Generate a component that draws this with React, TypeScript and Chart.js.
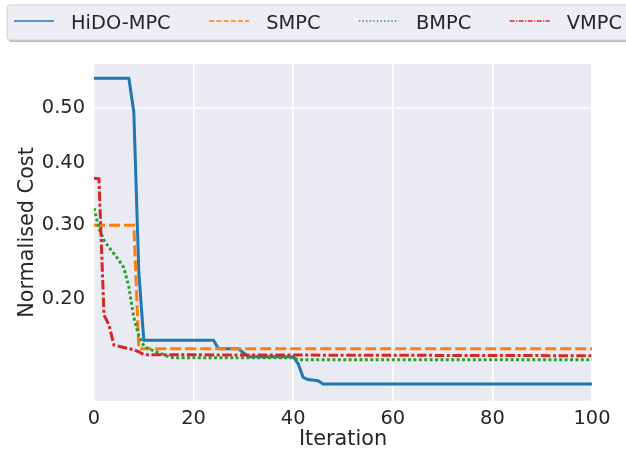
import React, { useEffect, useRef } from "react";
import { Chart, registerables } from "chart.js";

Chart.register(...registerables);

// ---- data ----
const seriesNames = ["HiDO-MPC", "SMPC", "BMPC", "VMPC"];
const seriesColors = ["#1f77b4", "#ff7f0e", "#2ca02c", "#d62728"];

const hidoIter = [0, 7, 8, 9, 10, 24, 25, 29, 30, 31, 40, 41, 42, 43, 45, 46, 100];
const hidoCost = [0.559, 0.559, 0.492, 0.234, 0.153, 0.153, 0.144, 0.144, 0.14, 0.136, 0.136, 0.129, 0.116, 0.114, 0.113, 0.11, 0.11];

const smpcIter = [0, 8, 9, 100];
const smpcCost = [0.3, 0.3, 0.144, 0.144];

const bmpcIter = [0, 1, 2, 3, 4, 5, 6, 7, 8, 9, 10, 11, 12, 13, 14, 15, 16, 40, 41, 100];
const bmpcCost = [0.326, 0.295, 0.278, 0.268, 0.259, 0.25, 0.24, 0.215, 0.178, 0.158, 0.147, 0.144, 0.142, 0.14, 0.138, 0.136, 0.135, 0.135, 0.133, 0.133];

const vmpcIter = [0, 1, 2, 3, 4, 8, 9, 10, 100];
const vmpcCost = [0.374, 0.373, 0.181, 0.17, 0.148, 0.143, 0.141, 0.138, 0.137];

const yTickValues = [0.2, 0.3, 0.4, 0.5];
const yGridValues = [0.5];
const yAxisMin = 0.0952;
const yAxisMax = 0.5883;
const xAxisMin = 0;
const xAxisMax = 100;
const xStep = 20;

const xTitle = "Iteration";
const yTitle = "Normalised Cost";

// ---- styles ----
const TEXT = "#262626";
const FONT = "'DejaVu Sans', 'Liberation Sans', sans-serif";
const TICK_SIZE = 19.4;
const TITLE_SIZE = 20.8;
const dashes: number[][] = [[], [11, 4], [3, 2.4], [9.5, 2.6, 3, 2.6]];
const legendDashes: number[][] = [[], [5, 2.2], [1.4, 2.2], [5, 1.4, 1.2, 1.4]];

const tf = (v: number) => Math.sqrt(v);

function pts(xs: number[], ys: number[]) {
  return xs.map((x, i) => ({ x, y: tf(ys[i]) }));
}

const bgPlugin = {
  id: "bgPlugin",
  beforeDraw(chart: any) {
    const { ctx, chartArea } = chart;
    ctx.save();
    ctx.fillStyle = "#eaeaf2";
    ctx.fillRect(chartArea.left, chartArea.top, chartArea.right - chartArea.left, chartArea.bottom - chartArea.top);
    ctx.restore();
  },
};

function rr(ctx: CanvasRenderingContext2D, x: number, y: number, w: number, h: number, r: number) {
  ctx.beginPath();
  ctx.moveTo(x + r, y);
  ctx.lineTo(x + w - r, y);
  ctx.quadraticCurveTo(x + w, y, x + w, y + r);
  ctx.lineTo(x + w, y + h - r);
  ctx.quadraticCurveTo(x + w, y + h, x + w - r, y + h);
  ctx.lineTo(x + r, y + h);
  ctx.quadraticCurveTo(x, y + h, x, y + h - r);
  ctx.lineTo(x, y + r);
  ctx.quadraticCurveTo(x, y, x + r, y);
  ctx.closePath();
}

const legendPlugin = {
  id: "legendPlugin",
  afterDraw(chart: any) {
    const ctx: CanvasRenderingContext2D = chart.ctx;
    ctx.save();
    // shadow
    ctx.fillStyle = "rgba(0,0,0,0.28)";
    rr(ctx, 8.5, 7, 660, 35, 3);
    ctx.fill();
    // box
    ctx.fillStyle = "#ededf3";
    rr(ctx, 7, 5, 660, 35, 3);
    ctx.fill();
    ctx.strokeStyle = "#d0d0d6";
    ctx.lineWidth = 1;
    ctx.stroke();

    ctx.font = TICK_SIZE + "px " + FONT;
    ctx.textBaseline = "alphabetic";
    ctx.textAlign = "left";
    let x = 14;
    for (let i = 0; i < seriesNames.length; i++) {
      ctx.beginPath();
      ctx.strokeStyle = seriesColors[i];
      ctx.lineWidth = 1.5;
      ctx.setLineDash(legendDashes[i]);
      ctx.moveTo(x, 21);
      ctx.lineTo(x + 40, 21);
      ctx.stroke();
      ctx.setLineDash([]);
      ctx.fillStyle = TEXT;
      ctx.fillText(seriesNames[i], x + 57, 29);
      x += 57 + ctx.measureText(seriesNames[i]).width + 38.5;
    }
    ctx.restore();
  },
};

export default function App() {
  const ref = useRef<HTMLCanvasElement>(null);
  useEffect(() => {
    const canvas = ref.current!;
    Chart.defaults.font.family = FONT;
    Chart.defaults.color = TEXT;
    const data = [
      pts(hidoIter, hidoCost),
      pts(smpcIter, smpcCost),
      pts(bmpcIter, bmpcCost),
      pts(vmpcIter, vmpcCost),
    ];
    const chart = new Chart(canvas, {
      type: "line",
      data: {
        datasets: data.map((d, i) => ({
          label: seriesNames[i],
          data: d,
          borderColor: seriesColors[i],
          backgroundColor: seriesColors[i],
          borderWidth: 3,
          borderDash: dashes[i],
          borderCapStyle: "butt",
          borderJoinStyle: i === 0 ? "round" : "miter",
          pointRadius: 0,
          tension: 0,
          fill: false,
          order: 4 - i,
        })),
      },
      options: {
        animation: false,
        responsive: true,
        maintainAspectRatio: false,
        events: [],
        layout: { padding: { top: 64, right: 34, left: 0, bottom: 0 } },
        plugins: { legend: { display: false }, tooltip: { enabled: false } },
        scales: {
          x: {
            type: "linear",
            min: xAxisMin,
            max: xAxisMax,
            border: { display: false },
            grid: { color: "#ffffff", lineWidth: 1.5, drawTicks: false },
            ticks: { stepSize: xStep, padding: 6, color: TEXT, font: { size: TICK_SIZE } },
            title: { display: true, text: xTitle, color: TEXT, font: { size: TITLE_SIZE }, padding: { top: 0, bottom: 1 } },
            afterFit: (s: any) => {
              s.height = 52;
              s.paddingLeft = 0;
              s.paddingRight = 0;
            },
          },
          y: {
            type: "linear",
            min: tf(yAxisMin),
            max: tf(yAxisMax),
            border: { display: false },
            grid: {
              drawTicks: false,
              lineWidth: 1.5,
              color: (c: any) =>
                yGridValues.some((g) => Math.abs(tf(g) - c.tick.value) < 1e-9) ? "#ffffff" : "rgba(0,0,0,0)",
            },
            afterBuildTicks: (s: any) => {
              s.ticks = yTickValues.map((v) => ({ value: tf(v) }));
            },
            ticks: {
              padding: 9,
              color: TEXT,
              font: { size: TICK_SIZE },
              callback: (v: any) => (Number(v) * Number(v)).toFixed(2),
            },
            title: { display: true, text: yTitle, color: TEXT, font: { size: TITLE_SIZE }, padding: { top: 15, bottom: 0 } },
            afterFit: (s: any) => {
              s.width = 94;
              s.paddingTop = 0;
              s.paddingBottom = 0;
            },
          },
        },
      },
      plugins: [bgPlugin, legendPlugin],
    } as any);
    return () => chart.destroy();
  }, []);
  return (
    <div style={{ position: "absolute", left: 0, top: 0, width: 626, height: 453 }}>
      <canvas ref={ref} />
    </div>
  );
}
